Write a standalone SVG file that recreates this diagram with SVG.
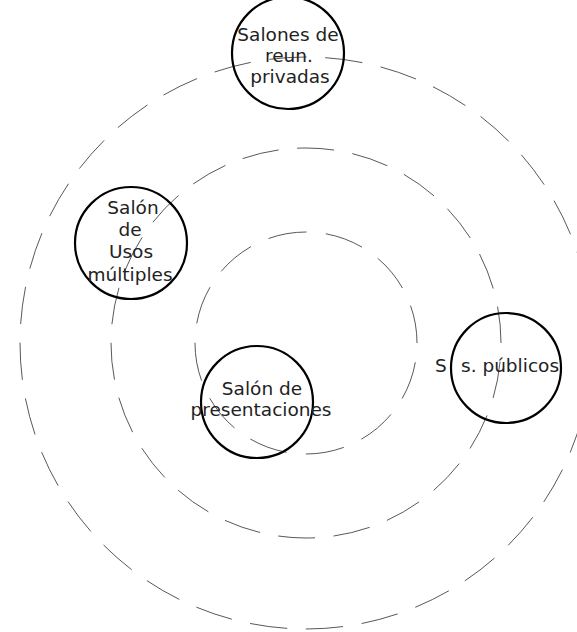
<svg xmlns="http://www.w3.org/2000/svg" width="577" height="632" viewBox="0 0 577 632">
  <style>
    .ring { fill: none; stroke: #3a3a3a; stroke-width: 0.85; }
    .node circle { fill: none; stroke: #000; stroke-width: 2.2; }
    .node text { font-family: "DejaVu Sans", "Verdana", sans-serif; font-size: 18.5px; fill: #222; text-anchor: middle; }
  </style>
  <rect width="577" height="632" fill="#fff"/>

  <!-- concentric dashed zones: 12, 22 and 32 dashes around each ring -->
  <g id="connectors">
    <circle class="ring" cx="306" cy="343" r="111" stroke-dasharray="38.746 19.373" stroke-dashoffset="38.746"/>
    <circle class="ring" cx="306" cy="343" r="195" stroke-dasharray="37.128 18.564" stroke-dashoffset="37.128"/>
    <circle class="ring" cx="306" cy="343" r="286" stroke-dasharray="37.437 18.719" stroke-dashoffset="37.437"/>
  </g>

  <g id="node-salones-reun" class="node">
    <circle cx="288" cy="53" r="56"/>
    <text x="288" y="41">Salones de</text>
    <text x="289" y="62">reun.</text>
    <text x="290" y="83">privadas</text>
  </g>

  <g id="node-usos-multiples" class="node">
    <circle cx="131" cy="243" r="56"/>
    <text x="133" y="214">Salón</text>
    <text x="130" y="236">de</text>
    <text x="131" y="258">Usos</text>
    <text x="130" y="281">múltiples</text>
  </g>

  <g id="node-presentaciones" class="node">
    <circle cx="257" cy="402" r="56"/>
    <text x="262" y="395">Salón de</text>
    <text x="261" y="416">presentaciones</text>
  </g>

  <g id="node-publicos" class="node">
    <circle cx="506" cy="368" r="55"/>
    <text y="372" style="text-anchor:start"><tspan x="435">S</tspan><tspan x="461">s. públicos</tspan></text>
  </g>
</svg>
